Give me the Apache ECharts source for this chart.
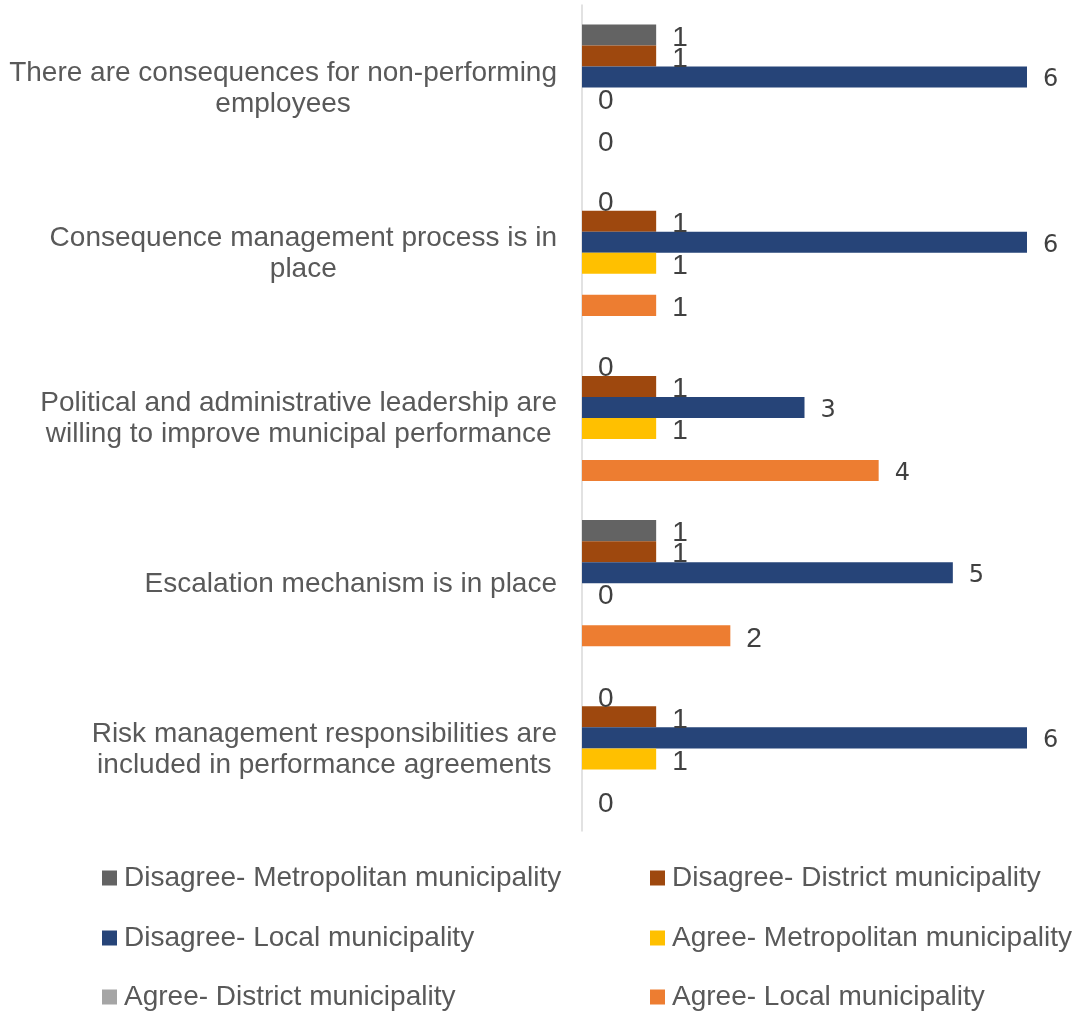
<!DOCTYPE html>
<html>
<head>
<meta charset="utf-8">
<title>Consequence and risk management by municipality type</title>
<script src="https://cdn.jsdelivr.net/npm/echarts@6/dist/echarts.min.js"></script>
<style>
  html, body { margin: 0; padding: 0; background: #ffffff; }
  #chart { width: 1074px; height: 1014px; }
</style>
</head>
<body>
<div id="chart"></div>
<script>
// Statements, listed top to bottom (line breaks as wrapped on the axis)
const categories = [
  'There are consequences for non-performing\nemployees',
  'Consequence management process is in\nplace',
  'Political and administrative leadership are\nwilling to improve municipal performance',
  'Escalation mechanism is in place',
  'Risk management responsibilities are\nincluded in performance agreements'
];

const seriesNames = [
  'Disagree- Metropolitan municipality',
  'Disagree- District municipality',
  'Disagree- Local municipality',
  'Agree- Metropolitan municipality',
  'Agree- District municipality',
  'Agree- Local municipality'
];

// Number of responses per statement
const disagreeMetropolitan = [1, 0, 0, 1, 0];
const disagreeDistrict     = [1, 1, 1, 1, 1];
const disagreeLocal        = [6, 6, 3, 5, 6];
const agreeMetropolitan    = [0, 1, 1, 0, 1];
const agreeDistrict        = [null, null, null, null, null];
const agreeLocal           = [0, 1, 4, 2, 0];

const seriesValues = [
  disagreeMetropolitan, disagreeDistrict, disagreeLocal,
  agreeMetropolitan, agreeDistrict, agreeLocal
];

const palette = ['#636363', '#9E480E', '#264478', '#FFC000', '#A5A5A5', '#ED7D31'];

const FONT = "'Liberation Sans', Arial, sans-serif";

const chart = echarts.init(document.getElementById('chart'), null, { renderer: 'canvas' });

const series = seriesNames.map((name, i) => ({
  name: name,
  type: 'bar',
  data: seriesValues[i],
  barGap: '0%',
  barCategoryGap: '23.6%',
  itemStyle: { color: palette[i] },
  label: {
    show: true,
    position: 'right',
    distance: 16,
    offset: [0, 3],
    formatter: p => (p.value >= 3 ? '{wide|' + p.value + '}' : '{plain|' + p.value + '}'),
    rich: {
      plain: { fontFamily: FONT, fontSize: 28, color: '#404040' },
      wide: { fontFamily: "'DejaVu Sans', sans-serif", fontSize: 24, color: '#404040' }
    }
  },
  emphasis: { disabled: true }
}));

// Legend laid out as two columns of three rows
const legendColumns = [102, 650];
const legendRows = [863, 923, 982];
const legends = seriesNames.map((name, i) => ({
  data: [name],
  left: legendColumns[i % 2],
  top: legendRows[Math.floor(i / 2)],
  padding: 0,
  itemWidth: 15,
  itemHeight: 15,
  icon: 'rect',
  selectedMode: false,
  textStyle: { fontFamily: FONT, fontSize: 28, color: '#595959', lineHeight: 30, padding: [0, 0, 0, 2] }
}));

chart.setOption({
  animation: false,
  color: palette,
  grid: { left: 582, right: 47, top: 5, bottom: 183, containLabel: false },
  xAxis: {
    type: 'value',
    min: 0,
    max: 6,
    show: false
  },
  yAxis: {
    type: 'category',
    inverse: true,
    data: categories,
    axisTick: { show: false },
    axisLine: { show: true, lineStyle: { color: '#D9D9D9', width: 1.5 } },
    axisLabel: {
      margin: 25,
      formatter: v => v.split('\n').map(line => '{c|' + line + '}').join('\n'),
      rich: {
        c: { align: 'center', fontFamily: FONT, fontSize: 28, lineHeight: 31, color: '#595959', padding: [2, 0, 0, 0] }
      }
    }
  },
  legend: legends,
  series: series
});
</script>
</body>
</html>
